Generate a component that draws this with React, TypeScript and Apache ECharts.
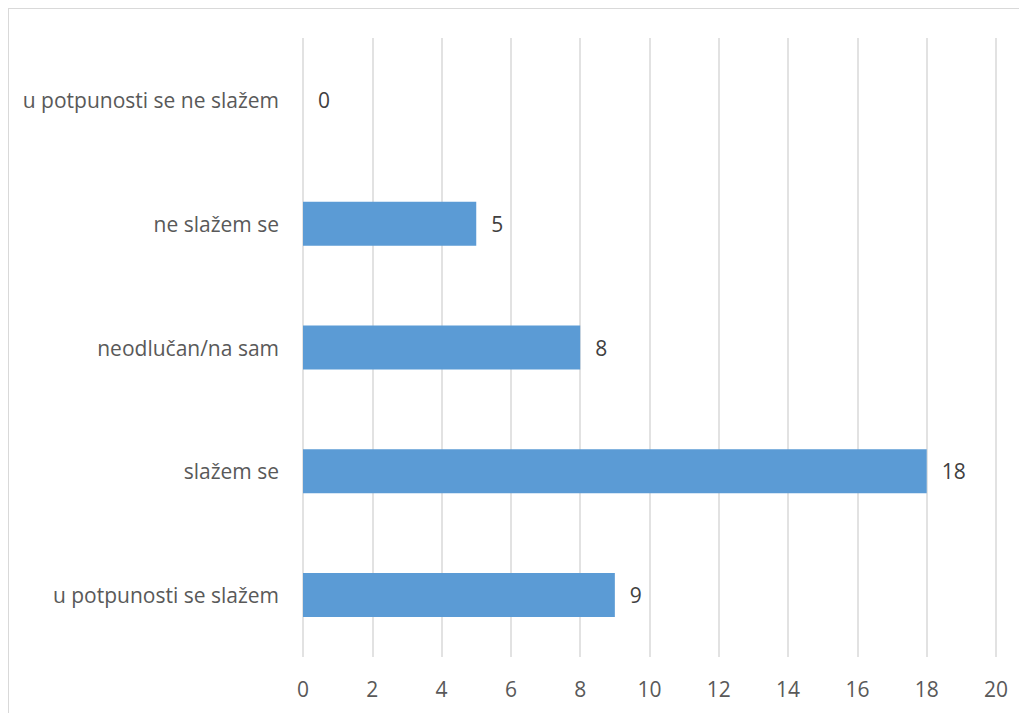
import React, { useEffect, useRef } from "react";
import * as echarts from "echarts";

const categories = [
  "u potpunosti se slažem",
  "slažem se",
  "neodlučan/na sam",
  "ne slažem se",
  "u potpunosti se ne slažem",
];
const values = [9, 18, 8, 5, 0];

export default function App() {
  const ref = useRef<HTMLDivElement>(null);
  useEffect(() => {
    if (!ref.current) return;
    const chart = echarts.init(ref.current, undefined, { renderer: "svg" });
    const font = "'Open Sans', 'Noto Sans', sans-serif";
    chart.setOption({
      animation: false,
      grid: { left: 294, right: 31, top: 29, bottom: 56, containLabel: false },
      xAxis: {
        type: "value",
        min: 0,
        max: 20,
        interval: 2,
        axisLine: { show: false },
        axisTick: { show: false },
        splitLine: { show: true, lineStyle: { color: "#d9d9d9", width: 1.5 } },
        axisLabel: { color: "#595959", fontSize: 21, fontFamily: font, margin: 21 },
      },
      yAxis: {
        type: "category",
        data: categories,
        axisLine: { show: false },
        axisTick: { show: false },
        axisLabel: { color: "#595959", fontSize: 21, fontFamily: font, margin: 24 },
      },
      series: [
        {
          type: "bar",
          data: values,
          barWidth: 44,
          itemStyle: { color: "#5b9bd5" },
          label: {
            show: true,
            position: "right",
            distance: 15,
            color: "#404040",
            fontSize: 21,
            fontFamily: font,
          },
        },
      ],
    });
    return () => chart.dispose();
  }, []);
  return (
    <div
      style={{
        width: 1019,
        height: 705,
        borderLeft: "1px solid #d9d9d9",
        borderTop: "1px solid #d9d9d9",
        boxSizing: "border-box",
      }}
    >
      <div ref={ref} style={{ width: 1018, height: 704 }} />
    </div>
  );
}
